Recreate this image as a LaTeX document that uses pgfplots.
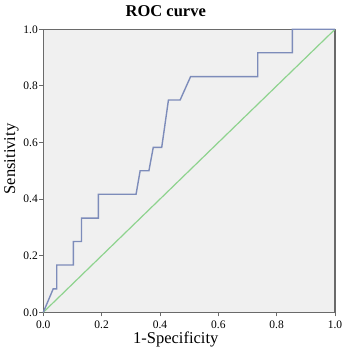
\documentclass[border=0pt]{standalone}
\usepackage{fontspec}
\setmainfont{Liberation Serif}
\usepackage{pgfplots}
\pgfplotsset{compat=1.18}
\definecolor{bgc}{HTML}{F0F0F0}
\definecolor{framec}{HTML}{6A6A6A}
\definecolor{rocc}{HTML}{7D8CBA}
\definecolor{diagc}{HTML}{8ED38E}
\begin{document}
\begin{tikzpicture}
\useasboundingbox (-43.3pt,-42.7pt) rectangle (310.7pt,312.3pt);
\begin{axis}[
  scale only axis,
  width=291.7pt, height=283pt,
  xmin=0, xmax=1, ymin=0, ymax=1,
  xtick={0,0.2,...,1.0}, ytick={0,0.2,...,1.0},
  xticklabel style={/pgf/number format/fixed,/pgf/number format/fixed zerofill,/pgf/number format/precision=1,font=\fontsize{11.5}{13}\selectfont, yshift=-1pt},
  yticklabel style={/pgf/number format/fixed,/pgf/number format/fixed zerofill,/pgf/number format/precision=1,font=\fontsize{11.5}{13}\selectfont, xshift=2pt},
  /pgf/number format/assume math mode=true,
  tick align=outside,
  major tick length=4pt,
  tick style={color=framec, line width=0.9pt},
  axis line style={draw=framec, line width=1.5pt},
  axis background/.style={fill=bgc},
  xtick pos=bottom, ytick pos=left,
  title={\textbf{ROC curve}},
  title style={at={(0.42,1)}, anchor=base, yshift=6.6pt, font=\fontsize{16.5}{19}\selectfont},
  xlabel={1-Specificity},
  xlabel style={at={(0.454,0)}, anchor=base, yshift=-31.4pt, font=\fontsize{16.5}{19}\selectfont},
  ylabel={Sensitivity},
  ylabel style={at={(-0.097,0.542)}, anchor=base, rotate=0, font=\fontsize{16.5}{19}\selectfont},
  clip=false,
]
\addplot[diagc, line width=1.2pt] coordinates {(0,0) (1,1)};
\addplot[rocc, line width=1.4pt] coordinates {
(0,0) (0.034,0.083) (0.046,0.083) (0.046,0.167) (0.103,0.167) (0.103,0.25)
(0.131,0.25) (0.131,0.333) (0.189,0.333) (0.189,0.417) (0.318,0.417) (0.332,0.5)
(0.362,0.5) (0.377,0.583) (0.406,0.583) (0.429,0.75) (0.469,0.75) (0.505,0.833)
(0.735,0.833) (0.735,0.917) (0.854,0.917) (0.854,1) (1,1)};
\end{axis}
\end{tikzpicture}
\end{document}
